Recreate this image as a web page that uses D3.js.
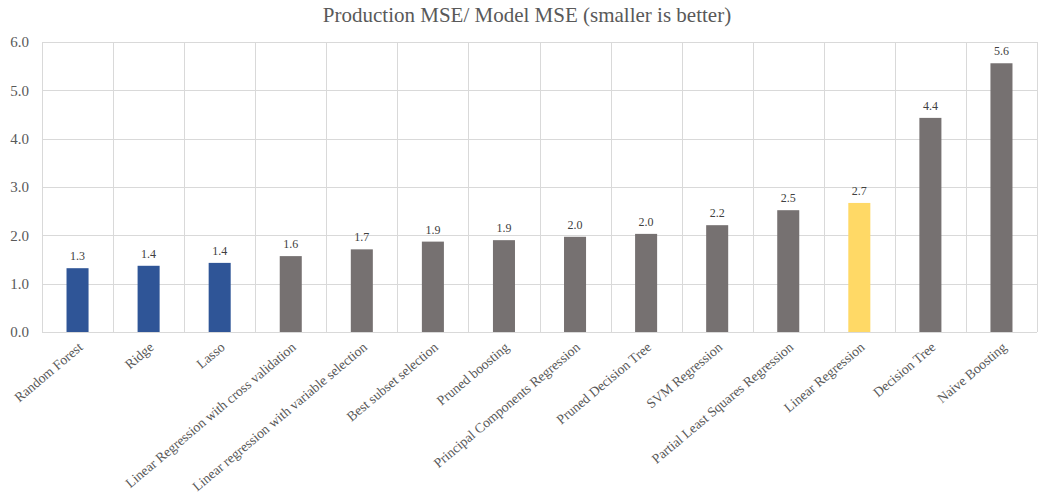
<!DOCTYPE html>
<html>
<head>
<meta charset="utf-8">
<script src="https://cdn.jsdelivr.net/npm/d3@7"></script>
<style>
  html, body { margin: 0; padding: 0; background: #fff; }
  svg { display: block; }
  svg text { font-family: "Liberation Serif", "DejaVu Serif", serif !important; fill: #595959; }
</style>
</head>
<body>
<svg id="chart" width="1040" height="501"></svg>
<script>
// Model names, in order of increasing ratio
const models = [
  "Random Forest", "Ridge", "Lasso",
  "Linear Regression with cross validation",
  "Linear regression with variable selection",
  "Best subset selection", "Pruned boosting",
  "Principal Components Regression", "Pruned Decision Tree",
  "SVM Regression", "Partial Least Squares Regression",
  "Linear Regression", "Decision Tree", "Naive Boosting"
];
// Production MSE divided by model MSE
const ratios = [1.32, 1.37, 1.43, 1.57, 1.71, 1.87, 1.90, 1.97, 2.03, 2.21, 2.52, 2.67, 4.43, 5.56];
// Bar group: regularised/ensemble winners, baseline, everything else
const groups = ["top", "top", "top", "other", "other", "other", "other",
                "other", "other", "other", "other", "baseline", "other", "other"];
const yTicks = [0, 1, 2, 3, 4, 5, 6];
const title = "Production MSE/ Model MSE (smaller is better)";

const colors = { top: "#2F5597", other: "#767171", baseline: "#FFD966" };

const svg = d3.select("#chart");
const margin = { left: 42, right: 3, top: 42, bottom: 169 };
const W = 1040, H = 501;

const x = d3.scaleBand()
  .domain(models)
  .range([margin.left, W - margin.right])
  .paddingInner(0.69).paddingOuter(0.345);
// full-width band for grid cells
const cell = d3.scaleBand().domain(models).range([margin.left, W - margin.right]);

const y = d3.scaleLinear().domain([0, 6]).range([H - margin.bottom, margin.top]);

// Title
svg.append("text")
  .attr("x", 527).attr("y", 22)
  .attr("text-anchor", "middle")
  .style("font-size", "21px")
  .text(title);

// Horizontal gridlines
svg.append("g").selectAll("line").data(yTicks).join("line")
  .attr("x1", margin.left).attr("x2", W - margin.right)
  .attr("y1", d => Math.round(y(d)) + 0.5).attr("y2", d => Math.round(y(d)) + 0.5)
  .attr("stroke", "#D9D9D9").attr("stroke-width", 1);

// Vertical gridlines between categories
const bounds = models.map(m => cell(m)).concat([W - margin.right]);
svg.append("g").selectAll("line").data(bounds).join("line")
  .attr("x1", d => Math.round(d) + 0.5).attr("x2", d => Math.round(d) + 0.5)
  .attr("y1", y(6)).attr("y2", y(0))
  .attr("stroke", "#D9D9D9").attr("stroke-width", 1);

// Y axis labels
const yAxis = d3.axisLeft(y).tickValues(yTicks).tickFormat(d3.format(".1f")).tickSize(0).tickPadding(13);
const gy = svg.append("g").attr("transform", `translate(${margin.left},0)`).call(yAxis);
gy.attr("font-family", null).attr("font-size", null);
gy.select(".domain").remove();
gy.selectAll("text").style("font-size", "15px");

// Bars
svg.append("g").selectAll("rect").data(models).join("rect")
  .attr("x", d => x(d))
  .attr("width", x.bandwidth())
  .attr("y", (d, i) => y(ratios[i]))
  .attr("height", (d, i) => y(0) - y(ratios[i]))
  .attr("fill", (d, i) => colors[groups[i]]);

// Value labels
svg.append("g").selectAll("text").data(models).join("text")
  .attr("x", d => x(d) + x.bandwidth() / 2)
  .attr("y", (d, i) => y(ratios[i]) - 8)
  .attr("text-anchor", "middle")
  .style("font-size", "12px")
  .style("fill", "#404040")
  .text((d, i) => ratios[i].toFixed(1));

// Category labels, rotated
svg.append("g").selectAll("text").data(models).join("text")
  .attr("transform", d => `translate(${x(d) + x.bandwidth() / 2 + 3},${y(0) + 13}) rotate(-40)`)
  .attr("text-anchor", "end")
  .attr("dy", "0.35em")
  .style("font-size", "13.7px")
  .text(d => d);
</script>
</body>
</html>
